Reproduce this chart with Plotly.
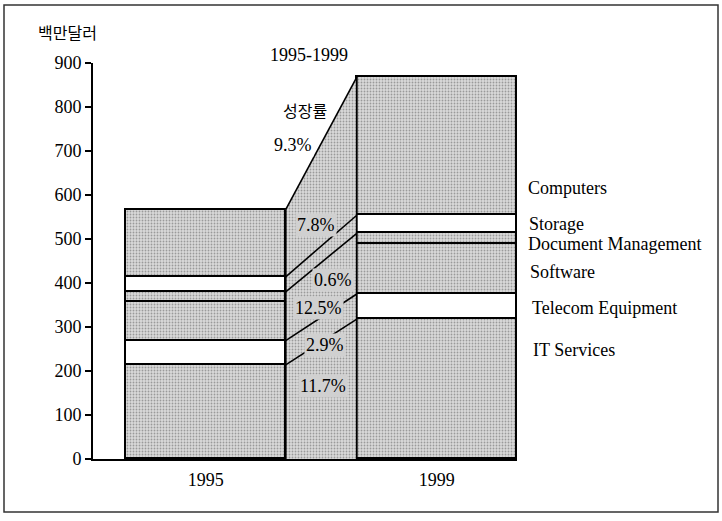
import plotly.graph_objects as go

# ---------------- data ----------------
years = ["1995", "1999"]
segments = ["IT Services", "Telecom Equipment", "Software",
            "Document Management", "Storage", "Computers"]
values_1995 = [214, 55, 87, 24, 34, 153]
values_1999 = [318, 57, 114, 24, 41, 314]
growth = ["11.7%", "2.9%", "12.5%", "0.6%", "7.8%", "9.3%"]
y_ticks = [0, 100, 200, 300, 400, 500, 600, 700, 800, 900]
y_unit = "백만달러"
period = "1995-1999"
growth_title = "성장률"

# ---------------- styling ----------------
GRAY = "#d0d0d0"
FONT = "Liberation Serif"
PAT = dict(shape=".", fgcolor="#5a5a5a", bgcolor="#dadada", size=3, solidity=0.3)
seg_fill = {"IT Services": "gray", "Telecom Equipment": "white", "Software": "gray",
            "Document Management": "gray", "Storage": "white", "Computers": "gray"}

# pixel geometry helpers (plot area 93..517 x 63..459)
L, R, T, B = 93, 517, 63, 459
W, H = 722, 521
x_c0, x_c1 = 205.7, 436.8           # bar centres in px
ppu_x = x_c1 - x_c0                 # px per x unit
def px2x(px):
    return (px - x_c0) / ppu_x
def py2y(py):
    return (B - py) / (B - T) * 900
def px2paper(px):
    return (px - L) / (R - L)
def py2paper(py):
    return (B - py) / (B - T)

bar_w = 160 / ppu_x
xr = [px2x(L), px2x(R)]

fig = go.Figure()

for i, seg in enumerate(segments):
    if seg_fill[seg] == "gray":
        pattern = PAT
        color = GRAY
    else:
        pattern = dict(shape="")
        color = "white"
    fig.add_trace(go.Bar(
        x=[0, 1], y=[values_1995[i], values_1999[i]], width=bar_w,
        marker=dict(color=color, pattern=pattern, line=dict(color="black", width=1.6)),
        name=seg, hoverinfo="skip"))

# cumulative tops
cum95, cum99 = [], []
s95 = s99 = 0
for a, b in zip(values_1995, values_1999):
    s95 += a; s99 += b
    cum95.append(s95); cum99.append(s99)

xa, xb = bar_w / 2, 1 - bar_w / 2
fig.add_trace(go.Scatter(
    x=[xa, xa, xb, xb, xa], y=[0, cum95[-1], cum99[-1], 0, 0],
    mode="lines", line=dict(width=0), fill="toself", fillcolor=GRAY,
    fillpattern=PAT, hoverinfo="skip"))

# connector lines: boundaries of the white bands and the total
for k in [0, 1, 3, 4, 5]:
    fig.add_trace(go.Scatter(x=[xa, xb], y=[cum95[k], cum99[k]], mode="lines",
                             line=dict(color="black", width=1.6), hoverinfo="skip"))
fig.add_trace(go.Scatter(x=[xa, xa], y=[0, cum95[-1]], mode="lines",
                         line=dict(color="black", width=1.8), hoverinfo="skip"))
fig.add_trace(go.Scatter(x=[xb, xb], y=[0, cum99[-1]], mode="lines",
                         line=dict(color="black", width=1.8), hoverinfo="skip"))

annotations = []
growth_pos = {"9.3%": (293, 145, "white"), "7.8%": (316, 225, GRAY), "0.6%": (333, 280, GRAY),
              "12.5%": (318, 308, GRAY), "2.9%": (325, 345, GRAY), "11.7%": (323, 386, GRAY)}
for g in growth:
    px, py, bg = growth_pos[g]
    annotations.append(dict(x=px2x(px), y=py2y(py), xref="x", yref="y", text=g,
                            xanchor="center", yanchor="middle",
                            showarrow=False, font=dict(family=FONT, size=18, color="black"),
                            bgcolor=bg, borderpad=1))
annotations.append(dict(x=px2paper(309), y=py2paper(55), xref="paper", yref="paper", text=period,
                        xanchor="center", yanchor="middle",
                        showarrow=False, font=dict(family=FONT, size=18, color="black")))
annotations.append(dict(x=px2paper(305), y=py2paper(110), xref="paper", yref="paper", text=growth_title,
                        xanchor="center", yanchor="middle",
                        showarrow=False, font=dict(family="Noto Sans CJK KR", size=16, color="black")))
annotations.append(dict(x=px2paper(67), y=py2paper(32), xref="paper", yref="paper", text=y_unit,
                        xanchor="center", yanchor="middle",
                        showarrow=False, font=dict(family="Noto Sans CJK KR", size=16, color="black")))

label_py = {"Computers": 188, "Storage": 224, "Document Management": 244,
            "Software": 272, "Telecom Equipment": 308, "IT Services": 350}
label_px = {"Computers": 526, "Storage": 527, "Document Management": 526,
            "Software": 528, "Telecom Equipment": 530, "IT Services": 531}
for seg in segments:
    annotations.append(dict(x=px2paper(label_px[seg]), y=py2paper(label_py[seg]),
                            xref="paper", yref="paper", text=seg,
                            xanchor="left", yanchor="middle",
                            showarrow=False, font=dict(family=FONT, size=18, color="black")))

shapes = [dict(type="rect", xref="paper", yref="paper",
               x0=px2paper(4), x1=px2paper(718), y0=py2paper(512), y1=py2paper(5),
               line=dict(color="#333", width=1.5), fillcolor="rgba(0,0,0,0)", layer="below")]

fig.update_layout(
    width=W, height=H, barmode="stack", showlegend=False,
    plot_bgcolor="white", paper_bgcolor="white",
    margin=dict(l=L, r=W - R, t=T, b=H - B),
    font=dict(family=FONT, size=18, color="black"),
    annotations=annotations, shapes=shapes, bargap=0,
    xaxis=dict(range=xr, tickvals=[0, 1], ticktext=years, showline=True, linecolor="black",
               linewidth=2, ticks="", showgrid=False, zeroline=False, fixedrange=True,
               ticklabelstandoff=3, tickfont=dict(family=FONT, size=18)),
    yaxis=dict(range=[0, 900], tickvals=y_ticks, showline=True, linecolor="black", linewidth=2,
               ticks="outside", ticklen=6, tickwidth=2, tickcolor="black", showgrid=False,
               zeroline=False, fixedrange=True, tickfont=dict(family=FONT, size=18)),
)

fig.write_html("out.html", config={"displayModeBar": False},
               post_script="document.body.style.margin='0';document.body.style.overflow='hidden';")
